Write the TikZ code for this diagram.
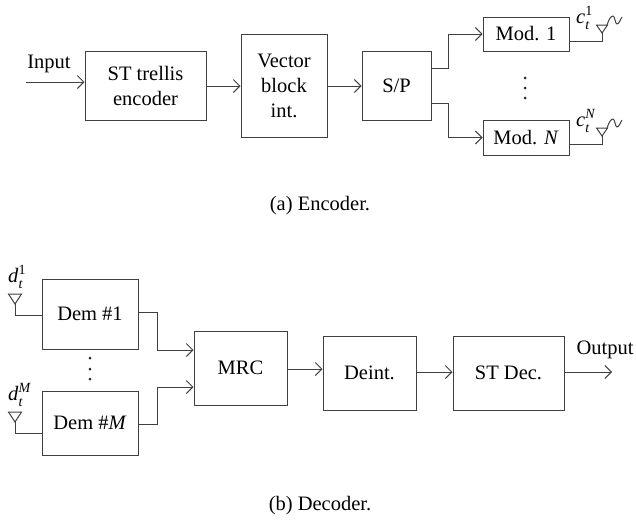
\documentclass[tikz,border=0pt]{standalone}
\usepackage{fontspec}
\setmainfont{Liberation Serif}
\usetikzlibrary{positioning, arrows.meta, calc}
% Letter with a subscript and a superscript
\newcommand{\antlabel}[3]{\textit{#1}\rlap{\raisebox{8pt}{\fontsize{14}{14}\selectfont #3}}\raisebox{-6pt}{\fontsize{14}{14}\selectfont\textit{#2}}}

\begin{document}
\begin{tikzpicture}[
    x=1pt, y=-1pt,
    >={Straight Barb[length=6.5pt, width=13pt]},
    font=\fontsize{20.5}{25}\selectfont,
    % Styles
    block/.style={ % Processing block
        rectangle,
        draw=black!75,
        line width=1pt,
        align=center,
        inner sep=0pt
    },
    arrow/.style={ % Connector with a tip
        ->,
        draw=black!75,
        line width=1pt
    },
    wire/.style={ % Connector with no tip
        draw=black!75,
        line width=1pt
    },
    caption/.style={ % Caption under a diagram
        inner sep=0pt
    },
    dot/.style={ % One vertical dot
        circle,
        fill=black!85,
        inner sep=0pt,
        minimum size=3pt
    },
    label/.style={ % Loose text
        inner sep=0pt
    }
]
    \useasboundingbox (0,0) rectangle (636,520);

    % Encoder blocks
    \node[block, minimum width=121pt, minimum height=69pt] (st) at (145.5,85.5) {ST trellis\\encoder};
    \node[block, minimum width=86pt, minimum height=103pt] (vec) at (284,85.5) {Vector\\block\\int.};
    \node[block, minimum width=69pt, minimum height=69pt] (sp) at (396.5,85.5) {S/P};
    \node[block, minimum width=86pt, minimum height=34pt] (mod1) at (526,34) {Mod. 1};
    \node[block, minimum width=86pt, minimum height=35pt] (modN) at (526,137.5) {Mod. \textit{N}};

    % Encoder arrows
    \coordinate (in) at (26,82);
    \node[label] (inlabel) at (49,64) {Input};
    \draw[arrow] (in) -- (in -| st.west);
    \draw[arrow] (st.east |- 0,86) -- (vec.west |- 0,86);
    \draw[arrow] (vec.east |- 0,86) -- (sp.west |- 0,86);
    \draw[arrow] (sp.east |- 0,68) -- (448,68) |- (mod1.west);
    \draw[arrow] (sp.east |- 0,103) -- (448,103) |- (modN.west);

    % Encoder antennas
    \foreach \X/\Y/\L in {mod1/25/1, modN/128/\textit{N}} {
        \coordinate (ant\X) at (602,\Y+8);
        \draw[wire] (\X.east |- 0,\Y+16) -| (ant\X);
        \draw[wire] (596.5,\Y) -- (607.5,\Y) -- (ant\X) -- cycle;
        \draw[wire] (607,\Y) .. controls (609,\Y-6) and (611,\Y-9) .. (613,\Y-9)
            .. controls (615,\Y-9) and (615,\Y-1) .. (617,\Y-1)
            .. controls (619,\Y-1) and (620,\Y-5) .. (622,\Y-8);
        \node[label, anchor=base west] (c\X) at (576,\Y-2) {\antlabel{c}{t}{\L}};
    }

    % Encoder dots
    \foreach \Y [count=\i] in {78,88,98} {
        \node[dot] (ed\i) at (525,\Y) {};
    }
    \node[caption] (capa) at (320,206) {(a) Encoder.};

    % Decoder blocks
    \node[block, minimum width=96pt, minimum height=70pt] (dem1) at (90,314) {Dem \#1};
    \node[block, minimum width=96pt, minimum height=64pt] (demM) at (90,423) {Dem \#\textit{M}};
    \node[block, minimum width=93pt, minimum height=74pt] (mrc) at (240.5,368) {MRC};
    \node[block, minimum width=93pt, minimum height=74pt] (deint) at (369.5,373) {Deint.};
    \node[block, minimum width=111pt, minimum height=74pt] (stdec) at (508.5,373) {ST Dec.};

    % Decoder arrows
    \draw[arrow] (dem1.east |- 0,312) -- (157,312) |- (mrc.west |- 0,350);
    \draw[arrow] (demM.east |- 0,424) -- (157,424) |- (mrc.west |- 0,387);
    \draw[arrow] (mrc.east |- 0,369) -- (deint.west |- 0,369);
    \draw[arrow] (deint.east |- 0,372) -- (stdec.west |- 0,372);
    \coordinate (out) at (612,372);
    \draw[arrow] (stdec.east |- out) -- (out);
    \node[label] (outlabel) at (605,350) {Output};

    % Decoder antennas
    \foreach \X/\Y/\L in {dem1/294/1, demM/412/\textit{M}} {
        \coordinate (ant\X) at (15,\Y+10);
        \draw[wire] (\X.west |- 0,\Y+21) -| (ant\X);
        \draw[wire] (8.5,\Y) -- (21.5,\Y) -- (ant\X) -- cycle;
        \node[label, anchor=base west] (d\X) at (8,\Y-12) {\antlabel{d}{t}{\L}};
    }

    % Decoder dots
    \foreach \Y [count=\i] in {358,369,379} {
        \node[dot] (dd\i) at (90,\Y) {};
    }
    \node[caption] (capb) at (320,506) {(b) Decoder.};
\end{tikzpicture}
\end{document}
